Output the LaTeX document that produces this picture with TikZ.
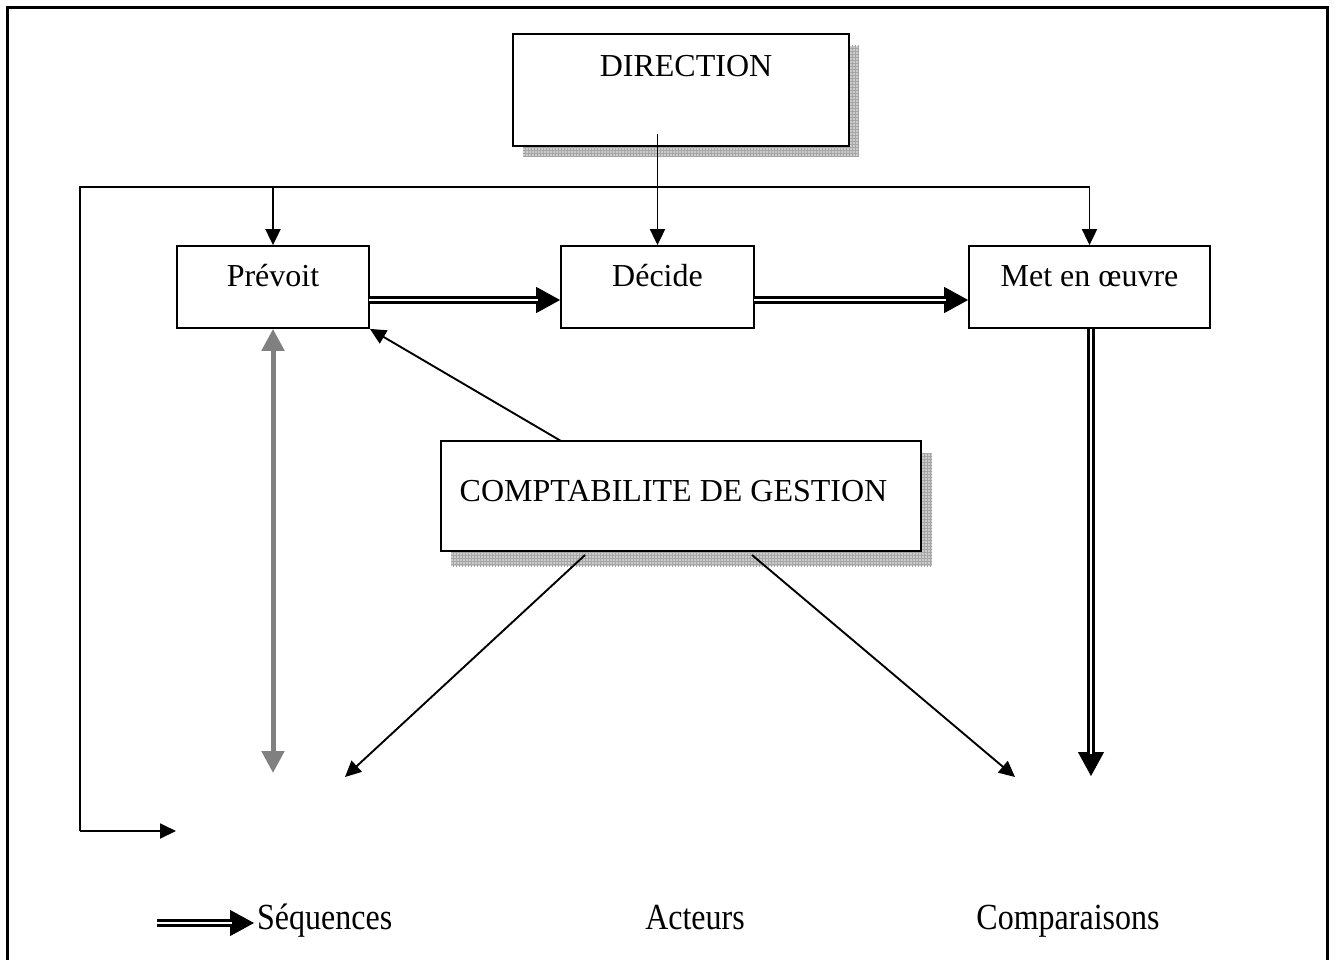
\documentclass[tikz,border=0pt]{standalone}
\usepackage{fontspec}
\setmainfont{Liberation Serif}
\usetikzlibrary{arrows.meta,patterns,calc}
\begin{document}
\begin{tikzpicture}[x=1pt,y=-1pt,
  font=\fontsize{32}{38}\selectfont,
  box/.style={draw, line width=1.8pt, fill=white, inner sep=0pt},
  shadowbox/.style={pattern=grid, pattern color=gray!70, preaction={fill=gray!40}},
  txt/.style={inner sep=0pt, anchor=base},
  conn/.style={line width=1.9pt},
  arr/.style={conn, -{Triangle[length=16pt,width=15pt]}},
  seqtip/.style={line width=1pt, -{Triangle[length=24pt,width=26pt]}},
  seqline/.style={double, double distance=2.5pt, line width=2.5pt, shorten >=22pt},
  grayarr/.style={draw=gray, line width=5pt, {Triangle[length=22pt,width=22pt]}-{Triangle[length=22pt,width=22pt]}}
]
\useasboundingbox (0,0) rectangle (1335,960);
% outer frame
\draw[line width=3pt] (7,968) -- (7,8) -- (1327,8) -- (1327,968);

% shadows
\fill[shadowbox] (523,46) rectangle (859,157);
\fill[shadowbox] (451,453) rectangle (932,566);

% boxes
\node[box, minimum width=336pt, minimum height=112pt] (dir) at (681,90) {};
\node[txt] (dirt) at (686,77) {DIRECTION};
\node[box, minimum width=192pt, minimum height=82pt] (prev) at (273,287) {};
\node[txt] (prevt) at (273,286) {Prévoit};
\node[box, minimum width=193pt, minimum height=82pt] (dec) at (657.5,287) {};
\node[txt] (dect) at (657.5,286) {Décide};
\node[box, minimum width=241pt, minimum height=82pt] (met) at (1089.5,287) {};
\node[txt] (mett) at (1089.5,286) {Met en œuvre};
\node[box, minimum width=480pt, minimum height=110pt] (cg) at (681,496) {};
\node[txt] (cgt) at (673.5,501) {COMPTABILITE DE GESTION};

% coordinates
\coordinate (d0) at (dec.north |- 0,134);
\coordinate (tl) at (80,187);
\coordinate (bl) at (80,831);
\coordinate (blend) at (176,831);
\coordinate (c1) at (585,555);
\coordinate (c2) at (752,555);
\coordinate (e1) at (345,777);
\coordinate (e2) at (1015,777);
\coordinate (g1) at (273,773);
\coordinate (m1) at (1091,776);
\coordinate (p1) at (369,300);
\coordinate (q1) at (754,300);
\coordinate (cga) at (561,441);

% connectors
\draw[arr] (d0) -- (dec.north);
\draw[conn] (tl -| met.north) -- (tl) -- (bl);
\draw[arr] (bl) -- (blend);
\draw[arr] (tl -| prev.north) -- (prev.north);
\draw[arr] (tl -| met.north) -- (met.north);
\draw[arr] (cga) -- (prev.south east);
\draw[arr] (c1) -- (e1);
\draw[arr] (c2) -- (e2);
\draw[grayarr] (prev.south) -- (g1);

% sequence double arrows
\draw[seqtip] (p1) -- (p1 -| dec.west);
\draw[seqline] (p1) -- (p1 -| dec.west);
\draw[seqtip] (q1) -- (q1 -| met.west);
\draw[seqline] (q1) -- (q1 -| met.west);
\draw[seqtip] (met.south -| m1) -- (m1);
\draw[seqline] (met.south -| m1) -- (m1);

% legend
\coordinate (l0) at (157,923);
\coordinate (l1) at (254,923);
\draw[seqtip] (l0) -- (l1);
\draw[seqline] (l0) -- (l1);
\node[inner sep=0pt, anchor=base west] (lseq) at (257,929) {\scalebox{1}[1.15]{Séquences}};
\node[txt] (lact) at (695,929) {\scalebox{1}[1.15]{Acteurs}};
\node[txt] (lcmp) at (1068,929) {\scalebox{1}[1.15]{Comparaisons}};
\end{tikzpicture}
\end{document}
